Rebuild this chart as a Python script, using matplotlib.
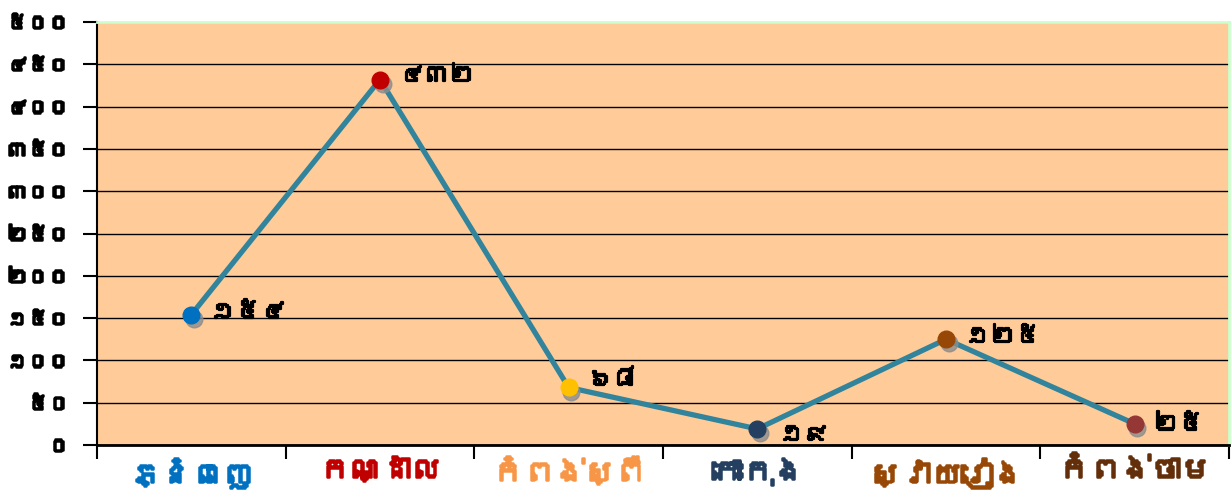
import matplotlib
matplotlib.use('Agg')
from matplotlib import pyplot as plt
from matplotlib import font_manager
from matplotlib import patheffects as pe
from matplotlib.ft2font import FT2Font
from matplotlib.ticker import FixedLocator, NullFormatter, FixedFormatter

# données
provinces = ['ភ្នំពេញ', 'កណ្ដាល', 'កំពង់ស្ពឺ', 'កោះកុង', 'ស្វាយរៀង', 'កំពង់ចាម']
values = [154, 432, 68, 19, 125, 25]
value_labels = ['១៥៤', '៤៣២', '៦៨', '១៩', '១២៥', '២៥']
yticks = [0, 50, 100, 150, 200, 250, 300, 350, 400, 450, 500]
ytick_labels = ['០', '៥០', '១០០', '១៥០', '២០០', '២៥០', '៣០០', '៣៥០', '៤០០', '៤៥០', '៥០០']
point_colors = ['#0070C0', '#C00000', '#FFC000', '#243F60', '#984806', '#953735']
label_colors = ['#0070C0', '#C00000', '#F79646', '#243F60', '#984806', '#632F0B']


def find_khmer_font():
    # cherche une police installée qui contient les glyphes khmers
    for f in font_manager.fontManager.ttflist:
        try:
            font = FT2Font(f.fname)
            if font.get_char_index(ord('ក')) and font.get_char_index(ord('១')):
                return f.name
        except Exception:
            pass
    return None


khmer = find_khmer_font()
families = ([khmer] if khmer else []) + ['DejaVu Sans']
plt.rcParams['font.family'] = families


def bold(c, w=1.2):
    # épaissit le texte (pas de graisse bold pour la police khmère)
    return [pe.withStroke(linewidth=w, foreground=c)]


fig = plt.figure(figsize=(12.32, 4.99), dpi=100)
ax = fig.add_axes([97 / 1232, 54 / 499, 1132 / 1232, 423 / 499])
ax.set_facecolor('#FFCC99')

x = list(range(len(values)))
ax.set_xlim(-0.5, len(values) - 0.5)
ax.set_ylim(0, 500)

ax.plot(x, values, color='#31849B', lw=3.8, zorder=3, solid_capstyle='round')
# ombre des marqueurs
shadow = ax.transData + matplotlib.transforms.ScaledTranslation(2 / 72, -3 / 72, fig.dpi_scale_trans)
for xi, v in zip(x, values):
    ax.plot(xi, v, 'o', ms=12, color='#8C8C8C', alpha=0.8, zorder=4, transform=shadow)
for xi, v, c in zip(x, values, point_colors):
    ax.plot(xi, v, 'o', ms=12, color=c, zorder=5)

offsets = [(14, 2), (14, 3), (14, 6), (16, -4), (14, 2), (14, 0)]
for xi, v, lab, (dx, dy) in zip(x, values, value_labels, offsets):
    ax.annotate(lab, (xi, v), xytext=(dx, dy), textcoords='offset points',
                ha='left', va='center', fontsize=18, fontweight='bold', color='black',
                zorder=6, path_effects=bold('black', 1.6))

ax.yaxis.set_major_locator(FixedLocator(yticks))
ax.yaxis.set_major_formatter(FixedFormatter(ytick_labels))
for lab in ax.get_yticklabels():
    lab.set_fontsize(15)
    lab.set_fontweight('bold')
    lab.set_path_effects(bold('black', 1.8))
ax.grid(axis='y', color='black', lw=1, zorder=1)
ax.set_axisbelow(True)

# ticks de catégories aux frontières
ax.xaxis.set_major_locator(FixedLocator([i - 0.5 for i in range(len(values) + 1)]))
ax.xaxis.set_major_formatter(NullFormatter())
ax.xaxis.set_minor_locator(FixedLocator(x))
ax.xaxis.set_minor_formatter(FixedFormatter(provinces))
ax.tick_params(axis='x', which='minor', length=0, pad=9)
ax.tick_params(axis='x', which='major', length=10, width=1.5, direction='out')
ax.tick_params(axis='y', length=10, width=1.5, direction='out', pad=10)
for lab, c in zip(ax.xaxis.get_minorticklabels(), label_colors):
    lab.set_color(c)
    lab.set_fontsize(22)
    lab.set_fontweight('bold')
    lab.set_path_effects(bold(c, 1.8))

ax.spines['left'].set_linewidth(1.5)
ax.spines['bottom'].set_linewidth(2)
ax.spines['top'].set_color('#CCFFCC')
ax.spines['top'].set_linewidth(2)
ax.spines['right'].set_color('#CCFFCC')
ax.spines['right'].set_linewidth(2)

fig.savefig('out.png', dpi=100)
